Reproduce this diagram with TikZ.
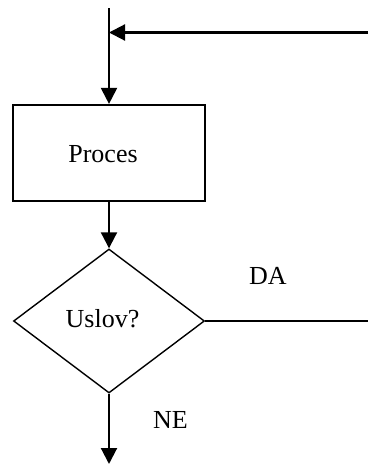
\documentclass[tikz,border=0pt]{standalone}
\usepackage{fontspec}
\setmainfont{Liberation Serif}
\usetikzlibrary{arrows.meta,shapes.geometric}
\begin{document}
\begin{tikzpicture}[x=1pt,y=-1pt,
  flow/.style={line width=2.1pt,-{Triangle[length=16pt,width=16pt]}},
  plain/.style={line width=1.5pt},
  procbox/.style={draw,line width=2.2pt,rectangle,minimum width=192pt,minimum height=96pt,inner sep=0pt},
  decision/.style={draw,line width=1.4pt,diamond,minimum width=191pt,minimum height=144pt,inner sep=0pt},
  lbl/.style={inner sep=0pt,anchor=base,font=\fontsize{26}{30}\selectfont}]
\useasboundingbox (0,0) rectangle (369,466);

% entry points
\coordinate (top) at (109,8);
\coordinate (back) at (368,32.5);
\coordinate (join) at (109,32.5);
\coordinate (out) at (109,464);
\coordinate (yes) at (368,321);

% shapes
\node[procbox] (proc) at (109,153) {};
\node[decision] (cond) at (109,321) {};

% texts
\node[lbl] (tproc) at (103,162.7) {Proces};
\node[lbl] (tcond) at (102.5,327.3) {Uslov?};
\node[lbl] (tda) at (268,284) {DA};
\node[lbl] (tne) at (170.5,428.3) {NE};

% connectors
\draw[flow] (top) -- (proc.north);
\draw[flow] (back) -- (join);
\draw[flow] (proc.south) -- (cond.north);
\draw[plain] (cond.east) -- (yes);
\draw[flow] (cond.south) -- (out);
\end{tikzpicture}
\end{document}
